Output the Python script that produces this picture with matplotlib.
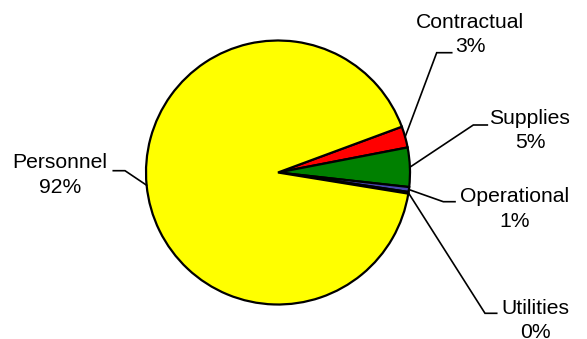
import numpy as np
import matplotlib
matplotlib.use("Agg")
import matplotlib.pyplot as plt

# Data (clockwise order as drawn, starting at the Contractual slice)
categories = ["Contractual", "Supplies", "Operational", "Utilities", "Personnel"]
values = [2.6, 4.8, 0.6, 0.2, 91.8]
colors = ["#FF0000", "#008000", "#4848B0", "#993366", "#FFFF00"]

# Layout (pixel-like coordinates, y up)
W, H = 587, 339
center = (278, H - 172.5)
radius = 132
start_angle = 20.3
# label text centre (x, y of first line) and elbow/end of leader line
label_pos = {
    "Contractual": dict(text=(470, H - 22), elbow=(436.7, H - 52.7), end=(451.7, H - 52.7)),
    "Supplies": dict(text=(530, H - 118), elbow=(473.3, H - 125), end=(487.3, H - 125)),
    "Operational": dict(text=(515, H - 197), elbow=(443.3, H - 201.7), end=(455, H - 201.7)),
    "Utilities": dict(text=(535, H - 308), elbow=(485, H - 313.3), end=(496.7, H - 313.3)),
    "Personnel": dict(text=(60, H - 163), elbow=(125, H - 170.7), end=(113.3, H - 170.7)),
}

plt.rcParams["font.family"] = ["Liberation Sans", "DejaVu Sans"]

fig = plt.figure(figsize=(W / 100, H / 100), dpi=100)
ax = fig.add_axes([0, 0, 1, 1])

wedges, _ = ax.pie(values, colors=colors, startangle=start_angle, counterclock=False,
                   center=center, radius=radius,
                   wedgeprops=dict(edgecolor="black", linewidth=1.6))
ax.set_xlim(0, W)
ax.set_ylim(0, H)
ax.set_aspect("equal")
ax.axis("off")

total = sum(values)
for w, cat, v in zip(wedges, categories, values):
    mid = np.deg2rad((w.theta1 + w.theta2) / 2)
    sx = center[0] + radius * np.cos(mid)
    sy = center[1] + radius * np.sin(mid)
    lp = label_pos[cat]
    ex, ey = lp["elbow"]
    fx, fy = lp["end"]
    ax.plot([sx, ex, fx], [sy, ey, fy], color="black", linewidth=1.2,
            solid_joinstyle="miter", clip_on=False)
    pct = round(v / total * 100)
    tx, ty = lp["text"]
    ax.text(tx, ty, cat, ha="center", va="center", fontsize=15.2, color="black")
    ax.text(tx, ty - 24.5, f"{pct}%", ha="center", va="center", fontsize=15.2, color="black")

fig.savefig("out.png", dpi=100, facecolor="white")
